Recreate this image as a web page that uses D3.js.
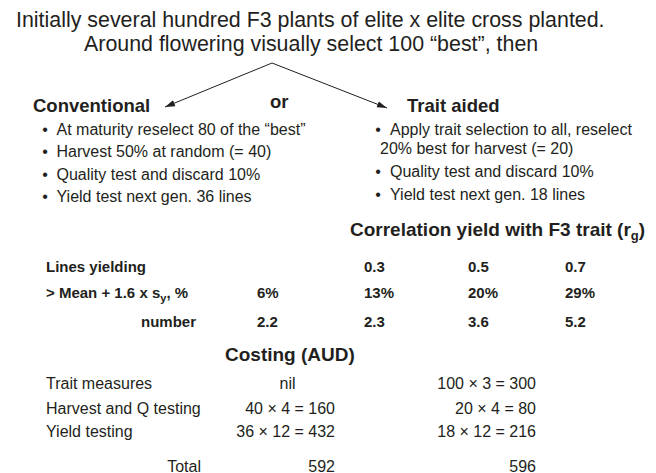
<!DOCTYPE html>
<html>
<head>
<meta charset="utf-8">
<script src="https://cdn.jsdelivr.net/npm/d3@7"></script>
<style>
  body { margin: 0; background: #fff; }
  text { font-family: "Liberation Sans", Arial, Helvetica, sans-serif; fill: #231f20; }
</style>
</head>
<body>
<script>
// *********************************************
// DATA
// *********************************************
var introLines = [
  "Initially several hundred F3 plants of elite x elite cross planted.",
  "Around flowering visually select 100 \u201cbest\u201d, then"
];
var routes = ["Conventional", "or", "Trait aided"];

var conventionalSteps = [
  "At maturity reselect 80 of the \u201cbest\u201d",
  "Harvest 50% at random (= 40)",
  "Quality test and discard 10%",
  "Yield test next gen. 36 lines"
];
var traitSteps = [
  ["Apply trait selection to all, reselect", "20% best for harvest (= 20)"],
  ["Quality test and discard 10%"],
  ["Yield test next gen. 18 lines"]
];

// correlation table
var colKeys = ["none", "0.3", "0.5", "0.7"];
var rgLevels = ["0.3", "0.5", "0.7"];
var pctAbove = ["6%", "13%", "20%", "29%"];
var numAbove = ["2.2", "2.3", "3.6", "5.2"];

// costing
var costItems = ["Trait measures", "Harvest and Q testing", "Yield testing"];
var convCosts = ["nil", "40 \u00d7 4 = 160", "36 \u00d7 12 = 432"];
var traitCosts = ["100 \u00d7 3 = 300", "20 \u00d7 4 = 80", "18 \u00d7 12 = 216"];
var totals = ["592", "596"];

// *********************************************
// SETUP
// *********************************************
var width = 656, height = 473;
var ink = "#231f20";

var svg = d3.select("body").append("svg")
    .attr("width", width)
    .attr("height", height);

function label(x, y, str, size, weight, anchor) {
  return svg.append("text")
      .attr("x", x)
      .attr("y", y)
      .attr("font-size", size)
      .attr("font-weight", weight || "normal")
      .attr("text-anchor", anchor || "start")
      .text(str);
}

// *********************************************
// HEADER + ARROWS
// *********************************************
svg.selectAll(".intro")
    .data(introLines)
  .enter().append("text")
    .attr("class", "intro")
    .attr("x", (d, i) => i == 0 ? 16 : 84)
    .attr("y", (d, i) => i == 0 ? 27 : 51)
    .attr("font-size", 21.4)
    .text(d => d);

svg.append("defs").append("marker")
    .attr("id", "head")
    .attr("viewBox", "0 -4 10 8")
    .attr("refX", 10)
    .attr("refY", 0)
    .attr("markerUnits", "userSpaceOnUse")
    .attr("markerWidth", 10)
    .attr("markerHeight", 8)
    .attr("orient", "auto")
  .append("path")
    .attr("d", "M0,-3.2L10,0L0,3.2Z")
    .attr("fill", ink);

var apex = [272, 63];
var tips = [[165, 107], [387, 108]];
svg.selectAll(".arrow")
    .data(tips)
  .enter().append("path")
    .attr("class", "arrow")
    .attr("d", d => d3.line()([apex, d]))
    .attr("stroke", ink)
    .attr("stroke-width", 1)
    .attr("fill", "none")
    .attr("marker-end", "url(#head)");

var routeX = d3.scaleOrdinal().domain(routes).range([33, 270, 407]);
var routeY = d3.scaleOrdinal().domain(routes).range([112, 108, 112]);
svg.selectAll(".route")
    .data(routes)
  .enter().append("text")
    .attr("class", "route")
    .attr("x", d => routeX(d))
    .attr("y", d => routeY(d))
    .attr("font-size", 18.5)
    .attr("font-weight", "bold")
    .text(d => d);

// *********************************************
// BULLET LISTS
// *********************************************
var leftY = [135, 157, 180, 202];
conventionalSteps.forEach(function(s, i) {
  label(45, leftY[i], "\u2022", 16, "normal", "middle");
  label(56.5, leftY[i], s, 16);
});

var rightY = [[134.5, 154], [177], [199.5]];
traitSteps.forEach(function(lines, i) {
  label(378, rightY[i][0], "\u2022", 16, "normal", "middle");
  lines.forEach(function(s, j) {
    label(j == 0 ? 390 : 380, rightY[i][j], s, 16);
  });
});

// *********************************************
// CORRELATION TABLE
// *********************************************
var corr = label(350, 236, "Correlation yield with F3 trait (r", 19, "bold");
corr.append("tspan").attr("font-size", 13).attr("dy", 4).text("g");
corr.append("tspan").attr("dy", -4).text(")");

var colX = d3.scaleOrdinal().domain(colKeys).range([257, 364, 468, 565]);
var rowY = d3.scaleOrdinal().domain(["rg", "pct", "num"]).range([272, 298, 327]);

label(46, rowY("rg"), "Lines yielding", 15, "bold");
var mean = label(46, rowY("pct"), "> Mean + 1.6 x s", 15, "bold");
mean.append("tspan").attr("font-size", 11).attr("dy", 4).text("y");
mean.append("tspan").attr("dy", -4).text(", %");
label(196, rowY("num"), "number", 15, "bold", "end");

var tbl = svg.append("g").attr("font-weight", "bold");
tbl.selectAll(".rg")
    .data(rgLevels)
  .enter().append("text")
    .attr("x", d => colX(d))
    .attr("y", rowY("rg"))
    .attr("font-size", 15)
    .text(d => d);
tbl.selectAll(".pct")
    .data(pctAbove)
  .enter().append("text")
    .attr("x", (d, i) => colX(colKeys[i]))
    .attr("y", rowY("pct"))
    .attr("font-size", 15)
    .text(d => d);
tbl.selectAll(".num")
    .data(numAbove)
  .enter().append("text")
    .attr("x", (d, i) => colX(colKeys[i]))
    .attr("y", rowY("num"))
    .attr("font-size", 15)
    .text(d => d);

// *********************************************
// COSTING
// *********************************************
label(225, 361, "Costing (AUD)", 19, "bold");

var costY = d3.scaleOrdinal().domain(costItems.concat(["Total"])).range([388.5, 414, 437, 471.5]);

costItems.forEach(function(c, i) {
  label(46, costY(c), c, 16);
  if (convCosts[i] == "nil") label(287.5, costY(c), convCosts[i], 16, "normal", "middle");
  else label(335, costY(c), convCosts[i], 16, "normal", "end");
  label(536, costY(c), traitCosts[i], 16, "normal", "end");
});
label(201, costY("Total"), "Total", 16, "normal", "end");
label(335, costY("Total"), totals[0], 16, "normal", "end");
label(536, costY("Total"), totals[1], 16, "normal", "end");
</script>
</body>
</html>
